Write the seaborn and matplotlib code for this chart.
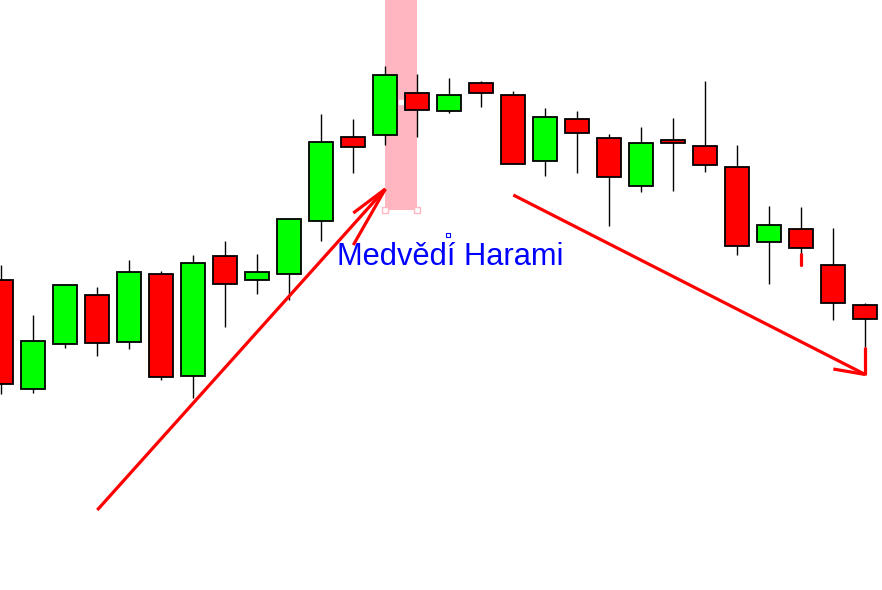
import numpy as np
import matplotlib
matplotlib.use("Agg")
import matplotlib.pyplot as plt
import seaborn as sns

# svickova data (cena v bodech grafu)
opens  = [310, 201, 246, 295, 248, 316, 214, 334, 310, 316, 369, 453, 455, 497,
          479, 507, 495, 429, 471, 452, 404, 450, 444, 423, 348, 361, 325, 285]
closes = [206, 249, 305, 247, 318, 213, 327, 306, 318, 371, 448, 443, 515, 480,
          495, 497, 426, 473, 457, 413, 447, 447, 425, 344, 365, 342, 287, 271]
highs  = [325, 275, 305, 303, 330, 319, 335, 349, 336, 371, 476, 471, 524, 516,
          512, 509, 499, 482, 479, 456, 463, 472, 509, 445, 384, 383, 362, 287]
lows   = [196, 197, 242, 234, 241, 210, 192, 263, 296, 290, 349, 417, 445, 453,
          477, 483, 426, 414, 417, 364, 398, 399, 418, 335, 306, 325, 270, 243]

sns.set_theme(style="white")

fig = plt.figure(figsize=(8.82, 5.90), dpi=100)
ax = fig.add_axes([0, 0, 1, 1])

idx = np.arange(len(opens))
o = np.array(opens)
c = np.array(closes)
up = c >= o
colors = np.where(up, "#00ff00", "#ff0000")

# zvyrazneni formace harami
ax.axvspan(12, 13, ymin=380 / 590, ymax=1, color="#ffb6c1", zorder=0, lw=0)
ax.plot([12, 13], [380, 380], ls="none", marker="s", ms=4, mfc="white",
        mec="#ffb6c1", mew=1, zorder=1)
ax.plot([12.5], [488], ls="none", marker="s", ms=3, mfc="white", mec="white", zorder=1)

# knoty a tela
ax.vlines(idx, lows, highs, color="black", lw=1.0, zorder=2)
ax.bar(idx, np.abs(c - o), bottom=np.minimum(o, c), width=0.75,
       color=colors, edgecolor="black", linewidth=1.3, zorder=3)

# rucne kreslene sipky
red = "#ff0000"
kw = dict(color=red, lw=2.3, solid_capstyle="butt", zorder=4)
ax.plot([3, 12], [80, 401], **kw)
ax.plot([11, 12], [377, 401], **kw)
ax.plot([11, 12], [345, 401], **kw)
ax.plot([16, 27], [395, 215.5], **kw)
ax.plot([26, 27], [221, 215.5], **kw)
ax.plot([27, 27], [243, 215.5], **kw)
ax.plot([25, 25], [336, 325], color=red, lw=2.3, zorder=4)

ax.text(10.48, 325, "Medvědí Harami", color="#0000ff", fontsize=22.2,
        family="Liberation Sans", ha="left", va="baseline", zorder=5)
ax.plot([13.96], [355], ls="none", marker="s", ms=3, mfc="white",
        mec="#0000ff", mew=0.8, zorder=5)

ax.set_xlim(-1.3 / 32, (882 - 1.3) / 32)
ax.set_ylim(0, 590)
ax.axis("off")

fig.savefig("out.png", dpi=100, facecolor="white")
